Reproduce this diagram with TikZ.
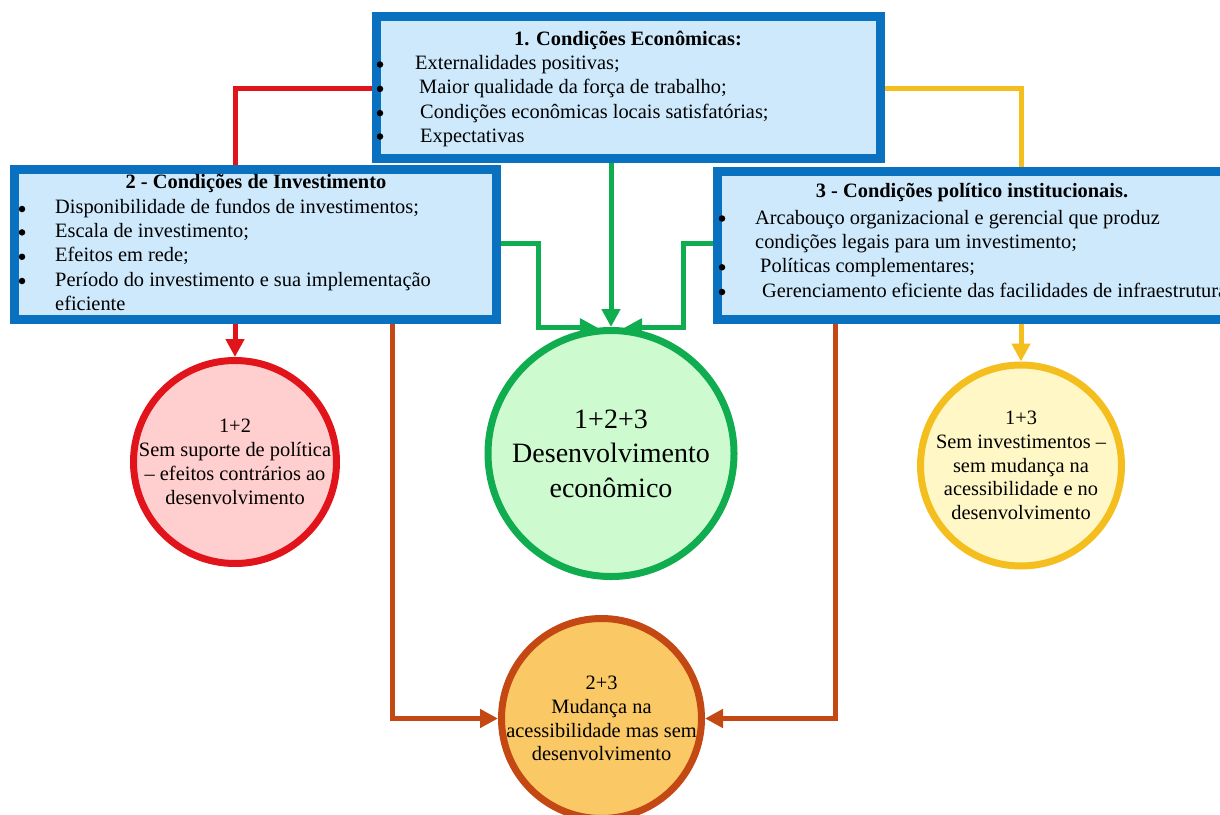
\documentclass[tikz,border=0pt]{standalone}
\usepackage{fontspec}
\setmainfont{Liberation Serif}
\usetikzlibrary{arrows.meta,backgrounds,calc}
\definecolor{boxblue}{RGB}{10,112,192}
\definecolor{boxfill}{RGB}{205,233,251}
\definecolor{cred}{RGB}{226,20,27}
\definecolor{credfill}{RGB}{255,206,206}
\definecolor{cgreen}{RGB}{16,172,80}
\definecolor{cgreenfill}{RGB}{206,250,208}
\definecolor{cyellow}{RGB}{244,190,30}
\definecolor{cyellowfill}{RGB}{255,248,198}
\definecolor{corange}{RGB}{196,72,20}
\definecolor{corangefill}{RGB}{250,200,100}
\begin{document}
\begin{tikzpicture}[x=1pt,y=-1pt,
  box/.style={rectangle, draw=boxblue, fill=boxfill, line width=9pt, inner sep=0pt},
  circ/.style={circle, line width=7pt, inner sep=0pt},
  bt/.style={anchor=base west, inner sep=0pt, font=\fontsize{20.4}{24.4}\selectfont},
  btt/.style={anchor=base, inner sep=0pt, font=\fontsize{20.4}{24.4}\selectfont\bfseries},
  bul/.style={circle, fill=black, inner sep=0pt, minimum size=6.5pt},
  ct/.style={align=center, inner sep=0pt, font=\fontsize{20.4}{23.8}\selectfont},
  conn/.style={line width=5pt},
  arr/.style={conn, -{Triangle[length=18pt,width=18pt]}}]
\path[use as bounding box] (0,0) rectangle (1220,814);
\clip (0,0) rectangle (1220,814);

% boxes
\node[box, minimum width=482pt, minimum height=150pt] (b2) at (255,244) {};
\node[box, minimum width=530pt, minimum height=148pt] (b3) at (982,245) {};
\node[box, minimum width=504pt, minimum height=142pt] (b1) at (628.5,87.5) {};

% circles
\node[circ, draw=cred, fill=credfill, minimum size=203pt] (c12) at (235,462) {};
\node[circ, draw=cgreen, fill=cgreenfill, minimum size=246pt] (c123) at (611,453.5) {};
\node[circ, draw=cyellow, fill=cyellowfill, minimum size=201pt] (c13) at (1021,465.5) {};
\node[circ, draw=corange, fill=corangefill, minimum size=200pt] (c23) at (601.5,718.5) {};

% box 1 text
\node[btt] (b1t) at (628,45) {1. Condições Econômicas:};
\node[bul] (b1b1) at (380,64.5) {};
\node[bt] (b1l1) at (415,69.3) {Externalidades positivas;};
\node[bul] (b1b2) at (380,88.9) {};
\node[bt] (b1l2) at (419,93.7) {Maior qualidade da força de trabalho;};
\node[bul] (b1b3) at (380,113.1) {};
\node[bt] (b1l3) at (420,118.1) {Condições econômicas locais satisfatórias;};
\node[bul] (b1b4) at (380,136.5) {};
\node[bt] (b1l4) at (420,142.5) {Expectativas};

% box 2 text
\node[btt] (b2t) at (256,188.5) {2 - Condições de Investimento};
\node[bul] (b2b1) at (22,209) {};
\node[bt] (b2l1) at (55,213) {Disponibilidade de fundos de investimentos;};
\node[bul] (b2b2) at (22,232.4) {};
\node[bt] (b2l2) at (55,237.4) {Escala de investimento;};
\node[bul] (b2b3) at (22,256.8) {};
\node[bt] (b2l3) at (55,261.8) {Efeitos em rede;};
\node[bul] (b2b4) at (22,281) {};
\node[bt] (b2l4) at (55,286.2) {Período do investimento e sua implementação};
\node[bt] (b2l5) at (55,310.6) {eficiente};

% box 3 text
\node[btt] (b3t) at (972,197) {3 - Condições político institucionais.};
\node[bul] (b3b1) at (722,218.5) {};
\node[bt] (b3l1) at (755,224) {Arcabouço organizacional e gerencial que produz};
\node[bt] (b3l2) at (755,248.4) {condições legais para um investimento;};
\node[bul] (b3b3) at (722,267.3) {};
\node[bt] (b3l3) at (760,272.8) {Políticas complementares;};
\node[bul] (b3b4) at (722,292) {};
\node[bt] (b3l4) at (762,297.2) {Gerenciamento eficiente das facilidades de infraestrutura};

% circle texts
\node[ct] (t12) at (c12.center) {1+2\\Sem suporte de política\\– efeitos contrários ao\\desenvolvimento};
\node[ct, font=\fontsize{28}{34.5}\selectfont] (t123) at (c123.center) {1+2+3\\Desenvolvimento\\econômico};
\node[ct] (t13) at (c13.center) {1+3\\Sem investimentos –\\sem mudança na\\acessibilidade e no\\desenvolvimento};
\node[ct] (t23) at (c23.center) {2+3\\Mudança na\\acessibilidade mas sem\\desenvolvimento};

% connectors
\coordinate (ry) at (0,88);
\coordinate (gy) at (0,243);
\coordinate (gl) at (538,0);
\coordinate (gr) at (683,0);
\coordinate (ol) at (392,0);
\coordinate (or) at (835,0);
\begin{pgfonlayer}{background}
\draw[arr, draw=cred] (b1.west |- ry) -| (c12.north);
\draw[arr, draw=cyellow] (b1.east |- ry) -| (c13.north);
\draw[arr, draw=cgreen] (b1.south -| c123.north) -- (c123.north);
\draw[arr, draw=cgreen] (b2.east |- gy) -| (gl |- c123.96) -- (c123.96);
\draw[arr, draw=cgreen] (b3.west |- gy) -| (gr |- c123.84) -- (c123.84);
\draw[arr, draw=corange] (b2.south -| ol) |- (c23.west);
\draw[arr, draw=corange] (b3.south -| or) |- (c23.east);
\end{pgfonlayer}
\end{tikzpicture}
\end{document}
